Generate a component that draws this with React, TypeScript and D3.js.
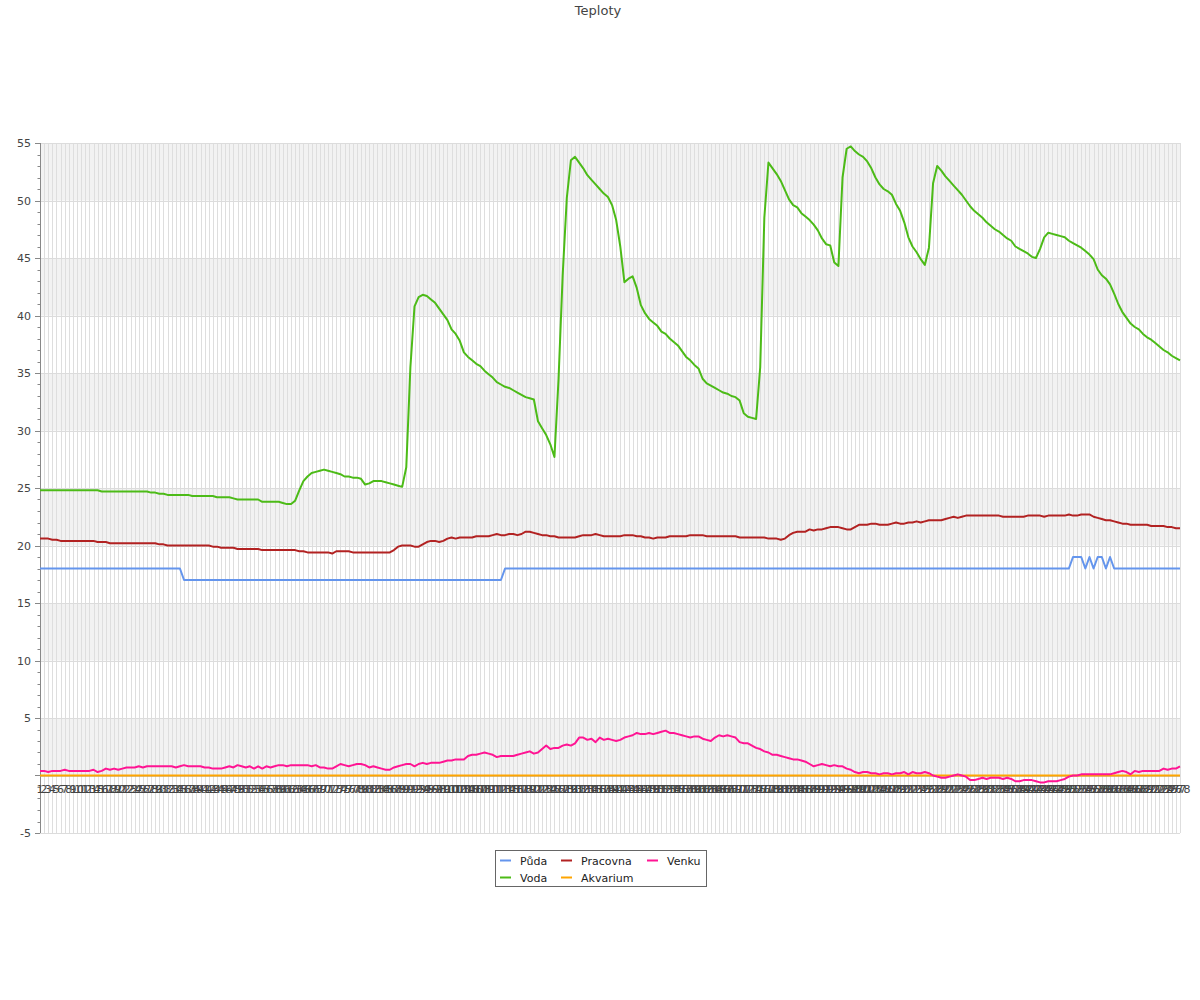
import React from "react";
import * as d3 from "d3";

const TITLE = "Teploty";

const CATEGORIES: string[] = [
"1","2","3","4","5","6","7","8","9","10","11","12","13","14","15","16","17","18","19","20",
"21","22","23","24","25","26","27","28","29","30","31","32","33","34","35","36","37","38","39","40",
"41","42","43","44","45","46","47","48","49","50","51","52","53","54","55","56","57","58","59","60",
"61","62","63","64","65","66","67","68","69","70","71","72","73","74","75","76","77","78","79","80",
"81","82","83","84","85","86","87","88","89","90","91","92","93","94","95","96","97","98","99","100",
"101","102","103","104","105","106","107","108","109","110","111","112","113","114","115","116","117","118","119","120",
"121","122","123","124","125","126","127","128","129","130","131","132","133","134","135","136","137","138","139","140",
"141","142","143","144","145","146","147","148","149","150","151","152","153","154","155","156","157","158","159","160",
"161","162","163","164","165","166","167","168","169","170","171","172","173","174","175","176","177","178","179","180",
"181","182","183","184","185","186","187","188","189","190","191","192","193","194","195","196","197","198","199","200",
"201","202","203","204","205","206","207","208","209","210","211","212","213","214","215","216","217","218","219","220",
"221","222","223","224","225","226","227","228","229","230","231","232","233","234","235","236","237","238","239","240",
"241","242","243","244","245","246","247","248","249","250","251","252","253","254","255","256","257","258","259","260",
"261","262","263","264","265","266","267","268","269","270","271","272","273","274","275","276","277","278"
];

const PUDA: number[] = [
18,18,18,18,18,18,18,18,18,18, 18,18,18,18,18,18,18,18,18,18,
18,18,18,18,18,18,18,18,18,18, 18,18,18,18,18,17,17,17,17,17,
17,17,17,17,17,17,17,17,17,17, 17,17,17,17,17,17,17,17,17,17,
17,17,17,17,17,17,17,17,17,17, 17,17,17,17,17,17,17,17,17,17,
17,17,17,17,17,17,17,17,17,17, 17,17,17,17,17,17,17,17,17,17,
17,17,17,17,17,17,17,17,17,17, 17,17,17,18,18,18,18,18,18,18,
18,18,18,18,18,18,18,18,18,18, 18,18,18,18,18,18,18,18,18,18,
18,18,18,18,18,18,18,18,18,18, 18,18,18,18,18,18,18,18,18,18,
18,18,18,18,18,18,18,18,18,18, 18,18,18,18,18,18,18,18,18,18,
18,18,18,18,18,18,18,18,18,18, 18,18,18,18,18,18,18,18,18,18,
18,18,18,18,18,18,18,18,18,18, 18,18,18,18,18,18,18,18,18,18,
18,18,18,18,18,18,18,18,18,18, 18,18,18,18,18,18,18,18,18,18,
18,18,18,18,18,18,18,18,18,18, 18,19,19,19,18,19,18,19,19,18,
19,18,18,18,18,18,18,18,18,18, 18,18,18,18,18,18,18,18
];

const VODA: number[] = [
24.8,24.8,24.8,24.8,24.8,24.8,24.8,24.8,24.8,24.8,
24.8,24.8,24.8,24.8,24.8,24.7,24.7,24.7,24.7,24.7,
24.7,24.7,24.7,24.7,24.7,24.7,24.7,24.6,24.6,24.5,
24.5,24.4,24.4,24.4,24.4,24.4,24.4,24.3,24.3,24.3,
24.3,24.3,24.3,24.2,24.2,24.2,24.2,24.1,24.0,24.0,
24.0,24.0,24.0,24.0,23.8,23.8,23.8,23.8,23.8,23.7,
23.6,23.6,23.9,24.8,25.6,26.0,26.3,26.4,26.5,26.6,
26.5,26.4,26.3,26.2,26.0,26.0,25.9,25.9,25.8,25.3,
25.4,25.6,25.6,25.6,25.5,25.4,25.3,25.2,25.1,26.8,
35.5,40.8,41.6,41.8,41.7,41.4,41.1,40.6,40.1,39.6,
38.8,38.4,37.8,36.8,36.4,36.1,35.8,35.6,35.2,34.9,
34.6,34.2,34.0,33.8,33.7,33.5,33.3,33.1,32.9,32.8,
32.7,30.8,30.2,29.6,28.8,27.7,34.5,43.5,50.2,53.5,
53.8,53.3,52.8,52.2,51.8,51.4,51.0,50.6,50.3,49.6,
48.3,46.0,42.9,43.2,43.4,42.4,40.9,40.2,39.7,39.4,
39.1,38.6,38.4,38.0,37.7,37.4,36.9,36.4,36.1,35.7,
35.4,34.5,34.1,33.9,33.7,33.5,33.3,33.2,33.0,32.9,
32.6,31.5,31.2,31.1,31.0,35.5,48.5,53.3,52.8,52.3,
51.7,50.9,50.1,49.6,49.4,48.9,48.6,48.3,47.9,47.4,
46.7,46.2,46.1,44.6,44.3,52.0,54.5,54.7,54.3,54.0,
53.8,53.4,52.8,52.0,51.4,51.0,50.8,50.5,49.7,49.1,
48.1,46.8,46.0,45.5,44.9,44.4,45.9,51.5,53.0,52.6,
52.1,51.7,51.3,50.9,50.5,50.0,49.5,49.1,48.8,48.5,
48.1,47.8,47.5,47.3,47.0,46.7,46.5,46.0,45.8,45.6,
45.4,45.1,45.0,45.8,46.8,47.2,47.1,47.0,46.9,46.8,
46.5,46.3,46.1,45.9,45.6,45.3,44.9,44.0,43.5,43.2,
42.7,41.9,41.0,40.3,39.8,39.3,39.0,38.8,38.4,38.1,
37.9,37.6,37.3,37.0,36.8,36.5,36.3,36.1
];

const PRACOVNA: number[] = [
20.6,20.6,20.6,20.5,20.5,20.4,20.4,20.4,20.4,20.4,
20.4,20.4,20.4,20.4,20.3,20.3,20.3,20.2,20.2,20.2,
20.2,20.2,20.2,20.2,20.2,20.2,20.2,20.2,20.2,20.1,
20.1,20.0,20.0,20.0,20.0,20.0,20.0,20.0,20.0,20.0,
20.0,20.0,19.9,19.9,19.8,19.8,19.8,19.8,19.7,19.7,
19.7,19.7,19.7,19.7,19.6,19.6,19.6,19.6,19.6,19.6,
19.6,19.6,19.6,19.5,19.5,19.4,19.4,19.4,19.4,19.4,
19.4,19.3,19.5,19.5,19.5,19.5,19.4,19.4,19.4,19.4,
19.4,19.4,19.4,19.4,19.4,19.4,19.6,19.9,20.0,20.0,
20.0,19.9,19.9,20.1,20.3,20.4,20.4,20.3,20.4,20.6,
20.7,20.6,20.7,20.7,20.7,20.7,20.8,20.8,20.8,20.8,
20.9,21.0,20.9,20.9,21.0,21.0,20.9,21.0,21.2,21.2,
21.1,21.0,20.9,20.9,20.8,20.8,20.7,20.7,20.7,20.7,
20.7,20.8,20.9,20.9,20.9,21.0,20.9,20.8,20.8,20.8,
20.8,20.8,20.9,20.9,20.9,20.8,20.8,20.7,20.7,20.6,
20.7,20.7,20.7,20.8,20.8,20.8,20.8,20.8,20.9,20.9,
20.9,20.9,20.8,20.8,20.8,20.8,20.8,20.8,20.8,20.8,
20.7,20.7,20.7,20.7,20.7,20.7,20.7,20.6,20.6,20.6,
20.5,20.6,20.9,21.1,21.2,21.2,21.2,21.4,21.3,21.4,
21.4,21.5,21.6,21.6,21.6,21.5,21.4,21.4,21.6,21.8,
21.8,21.8,21.9,21.9,21.8,21.8,21.8,21.9,22.0,21.9,
21.9,22.0,22.0,22.1,22.0,22.1,22.2,22.2,22.2,22.2,
22.3,22.4,22.5,22.4,22.5,22.6,22.6,22.6,22.6,22.6,
22.6,22.6,22.6,22.6,22.5,22.5,22.5,22.5,22.5,22.5,
22.6,22.6,22.6,22.6,22.5,22.6,22.6,22.6,22.6,22.6,
22.7,22.6,22.6,22.7,22.7,22.7,22.5,22.4,22.3,22.2,
22.2,22.1,22.0,21.9,21.9,21.8,21.8,21.8,21.8,21.8,
21.7,21.7,21.7,21.7,21.6,21.6,21.5,21.5
];

const AKVARIUM: number[] = [
0,0,0,0,0,0,0,0,0,0, 0,0,0,0,0,0,0,0,0,0,
0,0,0,0,0,0,0,0,0,0, 0,0,0,0,0,0,0,0,0,0,
0,0,0,0,0,0,0,0,0,0, 0,0,0,0,0,0,0,0,0,0,
0,0,0,0,0,0,0,0,0,0, 0,0,0,0,0,0,0,0,0,0,
0,0,0,0,0,0,0,0,0,0, 0,0,0,0,0,0,0,0,0,0,
0,0,0,0,0,0,0,0,0,0, 0,0,0,0,0,0,0,0,0,0,
0,0,0,0,0,0,0,0,0,0, 0,0,0,0,0,0,0,0,0,0,
0,0,0,0,0,0,0,0,0,0, 0,0,0,0,0,0,0,0,0,0,
0,0,0,0,0,0,0,0,0,0, 0,0,0,0,0,0,0,0,0,0,
0,0,0,0,0,0,0,0,0,0, 0,0,0,0,0,0,0,0,0,0,
0,0,0,0,0,0,0,0,0,0, 0,0,0,0,0,0,0,0,0,0,
0,0,0,0,0,0,0,0,0,0, 0,0,0,0,0,0,0,0,0,0,
0,0,0,0,0,0,0,0,0,0, 0,0,0,0,0,0,0,0,0,0,
0,0,0,0,0,0,0,0,0,0, 0,0,0,0,0,0,0,0
];

const VENKU: number[] = [
0.4,0.4,0.3,0.4,0.4,0.4,0.5,0.4,0.4,0.4,
0.4,0.4,0.4,0.5,0.3,0.4,0.6,0.5,0.6,0.5,
0.6,0.7,0.7,0.7,0.8,0.7,0.8,0.8,0.8,0.8,
0.8,0.8,0.8,0.7,0.8,0.9,0.8,0.8,0.8,0.8,
0.7,0.7,0.6,0.6,0.6,0.7,0.8,0.7,0.9,0.8,
0.7,0.8,0.6,0.8,0.6,0.8,0.7,0.8,0.9,0.9,
0.8,0.9,0.9,0.9,0.9,0.9,0.8,0.9,0.7,0.7,
0.6,0.6,0.8,1.0,0.9,0.8,0.9,1.0,1.0,0.9,
0.7,0.8,0.7,0.6,0.5,0.5,0.7,0.8,0.9,1.0,
1.0,0.8,1.0,1.1,1.0,1.1,1.1,1.1,1.2,1.3,
1.3,1.4,1.4,1.4,1.7,1.8,1.8,1.9,2.0,1.9,
1.8,1.6,1.7,1.7,1.7,1.7,1.8,1.9,2.0,2.1,
1.9,2.0,2.3,2.6,2.3,2.4,2.4,2.6,2.7,2.6,
2.8,3.3,3.3,3.1,3.2,2.9,3.3,3.1,3.2,3.1,
3.0,3.1,3.3,3.4,3.5,3.7,3.6,3.6,3.7,3.6,
3.7,3.8,3.9,3.7,3.7,3.6,3.5,3.4,3.3,3.4,
3.4,3.2,3.1,3.0,3.3,3.5,3.4,3.5,3.4,3.3,
2.9,2.8,2.8,2.6,2.4,2.3,2.1,2.0,1.8,1.8,
1.7,1.6,1.5,1.4,1.4,1.3,1.2,1.0,0.8,0.9,
1.0,0.9,0.8,0.9,0.8,0.8,0.6,0.5,0.3,0.2,
0.3,0.3,0.2,0.2,0.1,0.2,0.2,0.1,0.2,0.2,
0.3,0.1,0.3,0.2,0.2,0.3,0.2,0.0,-0.1,-0.2,
-0.2,-0.1,0.0,0.1,0.0,-0.1,-0.4,-0.4,-0.3,-0.2,
-0.3,-0.2,-0.2,-0.2,-0.3,-0.2,-0.3,-0.5,-0.5,-0.4,
-0.4,-0.4,-0.5,-0.6,-0.6,-0.5,-0.5,-0.5,-0.4,-0.3,
-0.1,0.0,0.0,0.1,0.1,0.1,0.1,0.1,0.1,0.1,
0.1,0.2,0.3,0.4,0.3,0.1,0.4,0.3,0.4,0.4,
0.4,0.4,0.4,0.6,0.5,0.6,0.6,0.8
];

const SERIES_NAMES = ["Půda", "Voda", "Pracovna", "Akvarium", "Venku"];
const SERIES_COLORS = ["#6495ed", "#4cbb17", "#b22222", "#ffa500", "#ff1493"];
const SERIES_DATA = [PUDA, VODA, PRACOVNA, AKVARIUM, VENKU];

const Y_MAJOR_TICKS = [-5, 0, 5, 10, 15, 20, 25, 30, 35, 40, 45, 50, 55];
const Y_TICK_LABELS = ["-5", "", "5", "10", "15", "20", "25", "30", "35", "40", "45", "50", "55"];

const W = 1200;
const H = 1000;
const L = 40, R = 1180, T = 143, B = 833;
const FONT = "'DejaVu Sans', sans-serif";

export default function App() {
  const x = d3.scalePoint<string>().domain(CATEGORIES).range([L, R]);
  const y = d3.scaleLinear().domain([-5, 55]).range([B, T]);

  const line = d3
    .line<number>()
    .x((_, i) => x(CATEGORIES[i]) as number)
    .y((d) => y(d));

  const minorTicks = d3.range(-5, 55.001, 1).filter((v) => v % 5 !== 0);
  const bands = [0, 10, 20, 30, 40, 50];

  const legendRows = 2;
  const legendX = 495, legendY = 850, legendW = 211, legendH = 36;
  const colX = [500, 561, 647];

  return (
    <svg
      width={W}
      height={H}
      style={{ position: "absolute", left: 0, top: 0, background: "#fff" }}
      fontFamily={FONT}
    >
      <text x={598} y={15} textAnchor="middle" fontSize={13} fill="#444">
        {TITLE}
      </text>

      {/* bands */}
      {bands.map((b) => (
        <rect key={b} x={L} y={y(b + 5)} width={R - L} height={y(b) - y(b + 5)} fill="#f2f2f2" />
      ))}

      {/* vertical grid */}
      {CATEGORIES.map((c) => (
        <line
          key={"v" + c}
          x1={Math.round(x(c) as number) + 0.5}
          x2={Math.round(x(c) as number) + 0.5}
          y1={T}
          y2={B}
          stroke="#dedede"
          strokeWidth={1}
        />
      ))}

      {/* horizontal grid */}
      {Y_MAJOR_TICKS.map((t) => (
        <line key={"h" + t} x1={L} x2={R} y1={Math.round(y(t)) + 0.5} y2={Math.round(y(t)) + 0.5} stroke="#dcdcdc" />
      ))}

      {/* y axis */}
      <line x1={L + 0.5} x2={L + 0.5} y1={T} y2={B} stroke="#888" />
      {Y_MAJOR_TICKS.map((t) => (
        <line key={"mt" + t} x1={L - 5} x2={L} y1={Math.round(y(t)) + 0.5} y2={Math.round(y(t)) + 0.5} stroke="#888" />
      ))}
      {minorTicks.map((t) => (
        <line key={"mn" + t} x1={L - 2.5} x2={L} y1={Math.round(y(t)) + 0.5} y2={Math.round(y(t)) + 0.5} stroke="#888" />
      ))}
      {Y_MAJOR_TICKS.map((t, i) => (
        <text key={"yl" + t} x={L - 9} y={y(t) + 4} textAnchor="end" fontSize={11} fill="#444">
          {Y_TICK_LABELS[i]}
        </text>
      ))}

      {/* zero axis line */}
      <line x1={L} x2={R} y1={Math.round(y(0)) + 1} y2={Math.round(y(0)) + 1} stroke="#999" />

      {/* x labels */}
      {CATEGORIES.map((c) => (
        <text key={"xl" + c} x={x(c) as number} y={793} textAnchor="middle" fontSize={11} fill="#444">
          {c}
        </text>
      ))}

      {/* series */}
      {SERIES_DATA.map((data, si) => (
        <path
          key={SERIES_NAMES[si]}
          d={line(data) || ""}
          fill="none"
          stroke={SERIES_COLORS[si]}
          strokeWidth={2}
          strokeLinejoin="round"
        />
      ))}

      {/* legend */}
      <rect x={legendX + 0.5} y={legendY + 0.5} width={legendW} height={legendH} fill="#fff" stroke="#666" />
      {SERIES_NAMES.map((name, i) => {
        const col = Math.floor(i / legendRows);
        const row = i % legendRows;
        const sx = colX[col];
        const sy = legendY + 10.5 + row * 17;
        return (
          <g key={"lg" + name}>
            <line x1={sx} x2={sx + 11} y1={sy} y2={sy} stroke={SERIES_COLORS[i]} strokeWidth={2} />
            <text x={sx + 20} y={sy + 4} fontSize={11} fill="#222">
              {name}
            </text>
          </g>
        );
      })}
    </svg>
  );
}
